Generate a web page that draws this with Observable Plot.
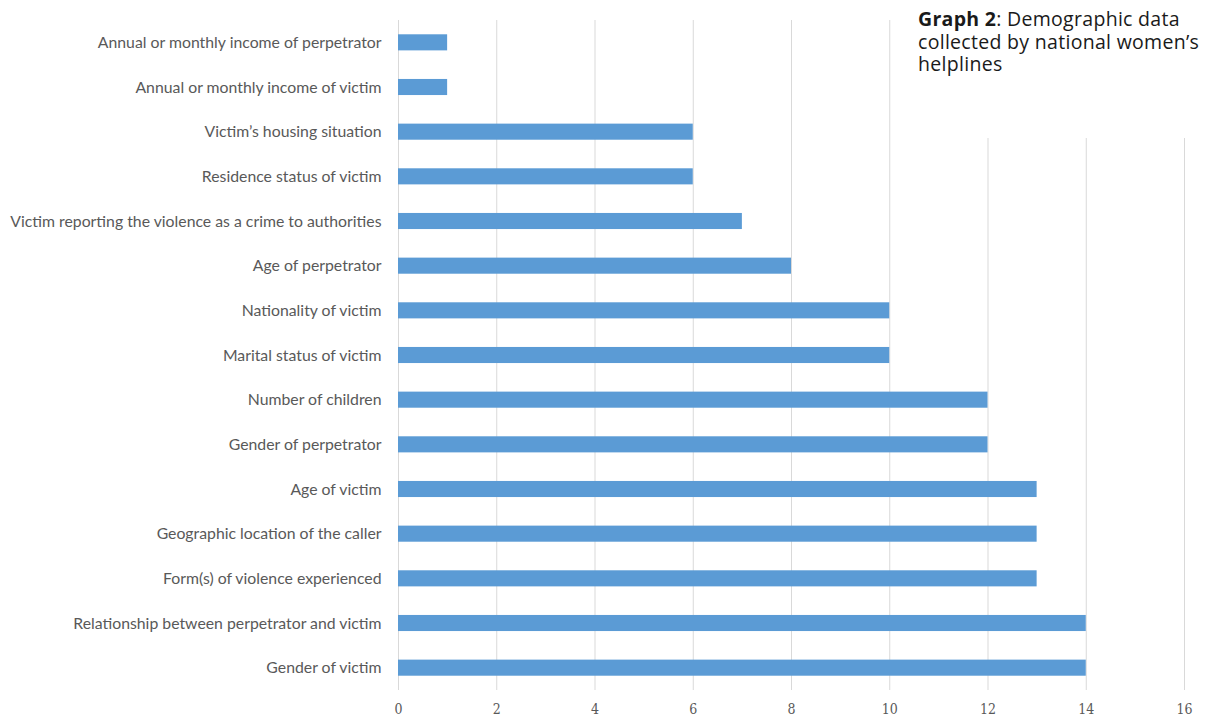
<!DOCTYPE html>
<html>
<head>
<meta charset="utf-8">
<script src="https://cdn.jsdelivr.net/npm/d3@7"></script>
<script src="https://cdn.jsdelivr.net/npm/@observablehq/plot@0.6"></script>
<style>
  html, body { margin: 0; padding: 0; background: #fff; }
  #wrap { position: relative; width: 1215px; height: 720px; }
  #title {
    position: absolute; left: 917px; top: 0; width: 298px; height: 138px;
    background: #fff; box-sizing: border-box; padding: 8px 0 0 1px;
    font-family: "Open Sans", "Noto Sans", sans-serif; font-size: 19.5px;
    letter-spacing: 0.3px; line-height: 22.5px; color: #1a1a1a;
  }
  #title b { font-weight: 700; }
</style>
</head>
<body>
<div id="wrap">
  <div id="chart"></div>
  <div id="title"><b>Graph 2</b>: Demographic data collected by national women’s helplines</div>
</div>
<script>
const categories = [
  "Annual or monthly income of perpetrator",
  "Annual or monthly income of victim",
  "Victim’s housing situation",
  "Residence status of victim",
  "Victim reporting the violence as a crime to authorities",
  "Age of perpetrator",
  "Nationality of victim",
  "Marital status of victim",
  "Number of children",
  "Gender of perpetrator",
  "Age of victim",
  "Geographic location of the caller",
  "Form(s) of violence experienced",
  "Relationship between perpetrator and victim",
  "Gender of victim"
];
const values = [1, 1, 6, 6, 7, 8, 10, 10, 12, 12, 13, 13, 13, 14, 14];
const xTicks = [0, 2, 4, 6, 8, 10, 12, 14, 16];

const data = categories.map((c, i) => ({category: c, value: values[i]}));

const chart = Plot.plot({
  width: 1215,
  height: 720,
  marginLeft: 398,
  marginRight: 31,
  marginTop: 20,
  marginBottom: 30,
  style: {background: "#fff", fontFamily: "Lato, 'Liberation Sans', sans-serif"},
  x: {domain: [0, 16], ticks: xTicks, label: null},
  y: {domain: categories, paddingInner: 0.64, paddingOuter: 0.32, round: false, label: null},
  marks: [
    Plot.gridX({ticks: xTicks, stroke: "#d9d9d9", strokeOpacity: 1, strokeWidth: 1}),
    Plot.barX(data, {x: "value", y: "category", fill: "#5b9bd5"}),
    Plot.axisX({ticks: xTicks, tickSize: 0, tickPadding: 14, fontSize: 14, fill: "#595959",
      fontFamily: "'DejaVu Serif Condensed', 'Liberation Serif', serif", label: null}),
    Plot.axisY({tickSize: 0, tickPadding: 17, fontSize: 15.8, fill: "#595959", label: null})
  ]
});
document.getElementById("chart").appendChild(chart);
</script>
</body>
</html>
